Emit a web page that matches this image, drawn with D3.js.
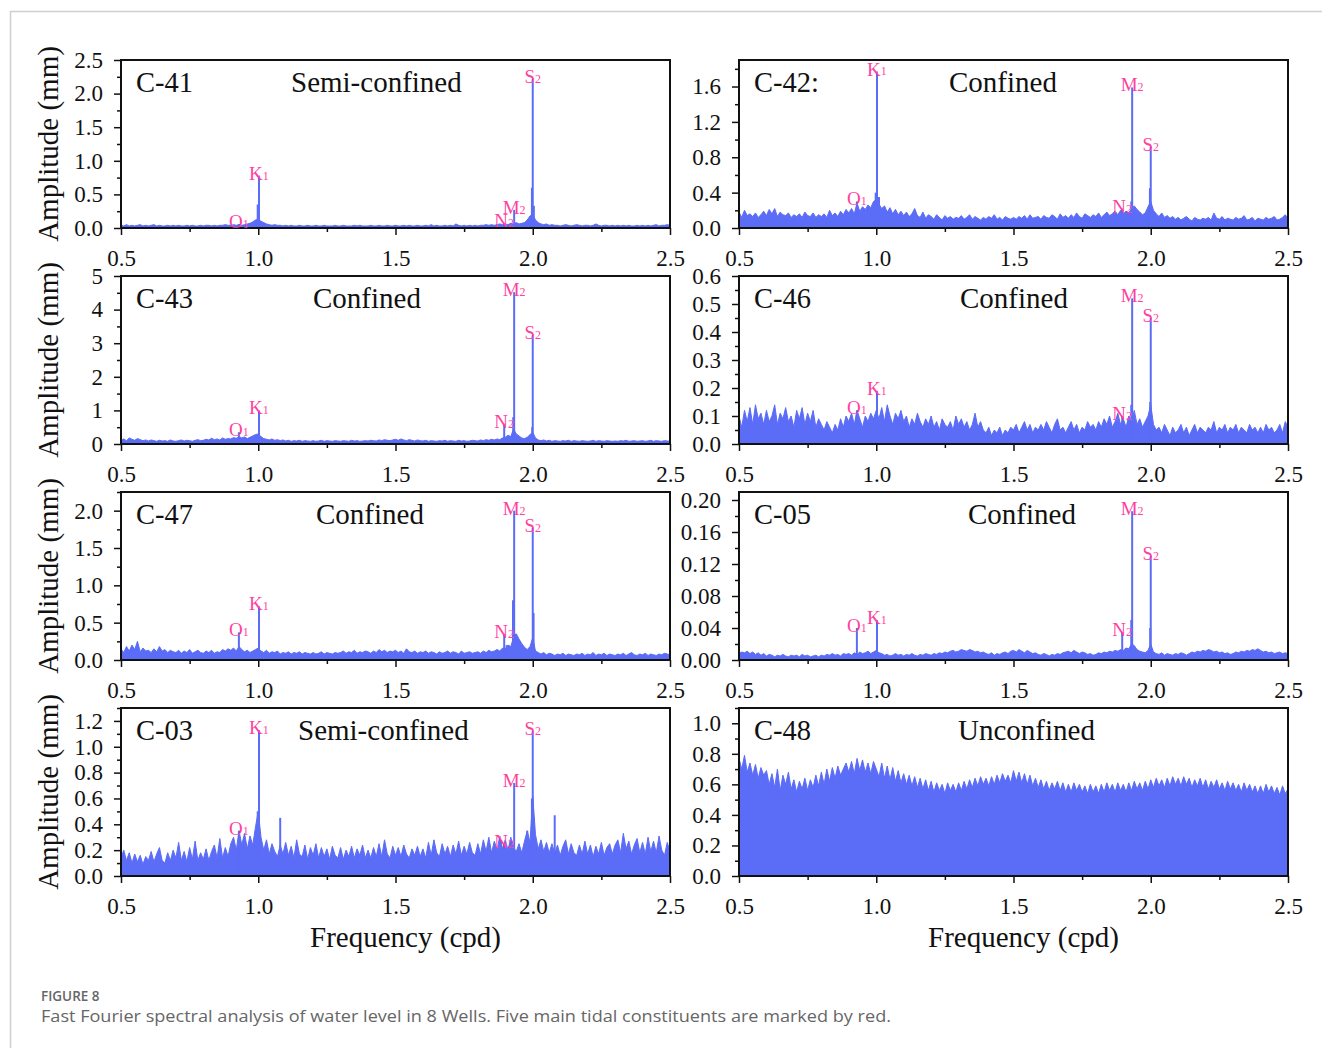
<!DOCTYPE html>
<html><head><meta charset="utf-8">
<script src="https://cdnjs.cloudflare.com/ajax/libs/d3/7.8.5/d3.min.js"></script>
<style>body{margin:0;background:#fff}svg{display:block}</style>
</head><body>
<svg id="c" width="1322" height="1048"></svg>
<script>
// ---------- DATA ----------
const freqStart = 0.5, freqStep = 0.01;
const xTicks = [0.5, 1.0, 1.5, 2.0, 2.5];
const xMinor = [0.75, 1.25, 1.75, 2.25];
const tideNames = ["O", "K", "N", "M", "S"];
const tideSubs  = ["1", "1", "2", "2", "2"];
const tideFreqs = [0.9295, 1.0027, 1.8960, 1.9323, 2.0];

const c41Noise = [0.04,0.03,0.05,0.03,0.04,0.03,0.04,0.05,0.03,0.04,
0.03,0.04,0.05,0.03,0.04,0.03,0.03,0.04,0.03,0.04,
0.03,0.04,0.03,0.03,0.04,0.03,0.04,0.03,0.03,0.04,
0.03,0.04,0.04,0.03,0.04,0.03,0.04,0.04,0.05,0.04,
0.04,0.05,0.04,0.05,0.04,0.05,0.06,0.07,0.09,0.12,
0.13,0.10,0.08,0.06,0.05,0.04,0.05,0.04,0.04,0.03,
0.04,0.03,0.04,0.03,0.03,0.04,0.03,0.03,0.04,0.03,
0.03,0.04,0.03,0.03,0.04,0.03,0.03,0.03,0.04,0.03,
0.03,0.04,0.03,0.03,0.03,0.04,0.03,0.04,0.03,0.03,
0.03,0.04,0.03,0.03,0.04,0.03,0.03,0.04,0.03,0.03,
0.04,0.03,0.03,0.04,0.03,0.04,0.03,0.03,0.04,0.03,
0.03,0.04,0.03,0.05,0.03,0.04,0.03,0.03,0.04,0.03,
0.04,0.03,0.06,0.04,0.03,0.04,0.03,0.04,0.03,0.04,
0.03,0.04,0.04,0.05,0.04,0.05,0.04,0.05,0.06,0.05,
0.06,0.05,0.07,0.06,0.08,0.06,0.07,0.08,0.12,0.18,
0.20,0.12,0.08,0.06,0.05,0.06,0.04,0.05,0.04,0.04,
0.03,0.04,0.05,0.04,0.03,0.04,0.05,0.04,0.03,0.04,
0.04,0.03,0.04,0.06,0.04,0.03,0.04,0.04,0.03,0.04,
0.03,0.04,0.03,0.04,0.03,0.04,0.03,0.03,0.04,0.03,
0.04,0.03,0.04,0.03,0.04,0.05,0.03,0.04,0.04,0.05,
0.04];
const c41Tide = [0.06, 0.78, 0.07, 0.27, 2.22];
const c41Extra = [[0.998,0.35],[1.997,0.60],[2.004,0.33]];
const c41YTicks = [0, 0.5, 1.0, 1.5, 2.0, 2.5];

const c42Noise = [0.18,0.12,0.20,0.14,0.16,0.13,0.17,0.12,0.15,0.19,
0.14,0.21,0.16,0.22,0.13,0.18,0.15,0.14,0.17,0.12,
0.15,0.13,0.16,0.12,0.18,0.14,0.13,0.17,0.12,0.15,
0.13,0.16,0.12,0.20,0.14,0.17,0.13,0.19,0.15,0.21,
0.17,0.22,0.16,0.28,0.19,0.24,0.21,0.26,0.23,0.30,
0.32,0.27,0.22,0.25,0.18,0.23,0.16,0.21,0.15,0.19,
0.14,0.18,0.13,0.16,0.22,0.14,0.12,0.18,0.11,0.15,
0.13,0.10,0.15,0.12,0.09,0.14,0.11,0.13,0.10,0.12,
0.11,0.14,0.10,0.12,0.15,0.10,0.13,0.11,0.09,0.12,
0.10,0.13,0.11,0.15,0.10,0.12,0.09,0.13,0.11,0.10,
0.12,0.10,0.13,0.11,0.14,0.10,0.15,0.11,0.12,0.13,
0.10,0.14,0.12,0.11,0.15,0.13,0.10,0.16,0.12,0.14,
0.11,0.15,0.12,0.17,0.13,0.11,0.16,0.14,0.12,0.15,
0.13,0.17,0.12,0.15,0.18,0.14,0.16,0.19,0.15,0.20,
0.16,0.19,0.17,0.22,0.25,0.21,0.18,0.15,0.17,0.24,
0.30,0.20,0.16,0.13,0.17,0.12,0.14,0.11,0.13,0.10,
0.12,0.09,0.11,0.13,0.10,0.08,0.12,0.10,0.09,0.11,
0.10,0.12,0.09,0.17,0.11,0.10,0.13,0.09,0.11,0.10,
0.09,0.12,0.10,0.11,0.14,0.09,0.10,0.12,0.08,0.11,
0.10,0.09,0.12,0.10,0.11,0.13,0.09,0.10,0.12,0.15,
0.11];
const c42Tide = [0.30, 1.77, 0.22, 1.59, 0.92];
const c42Extra = [[0.998,0.40],[1.01,0.35],[1.929,0.30],[1.997,0.45]];
const c42YTicks = [0, 0.4, 0.8, 1.2, 1.6];

const c43Noise = [0.12,0.15,0.10,0.18,0.14,0.11,0.16,0.13,0.10,0.12,
0.09,0.12,0.10,0.08,0.11,0.09,0.10,0.08,0.12,0.09,
0.08,0.10,0.12,0.09,0.11,0.10,0.08,0.11,0.13,0.10,
0.11,0.14,0.12,0.17,0.13,0.15,0.12,0.18,0.14,0.16,
0.15,0.19,0.17,0.22,0.18,0.21,0.16,0.20,0.24,0.28,
0.30,0.22,0.16,0.14,0.12,0.15,0.11,0.13,0.10,0.12,
0.09,0.11,0.08,0.10,0.09,0.11,0.08,0.10,0.09,0.08,
0.10,0.08,0.09,0.11,0.08,0.10,0.09,0.08,0.10,0.09,
0.08,0.10,0.09,0.08,0.11,0.09,0.10,0.08,0.09,0.10,
0.09,0.11,0.10,0.09,0.12,0.10,0.13,0.11,0.10,0.12,
0.14,0.11,0.15,0.12,0.10,0.13,0.11,0.09,0.12,0.10,
0.09,0.11,0.08,0.10,0.09,0.08,0.10,0.09,0.11,0.08,
0.10,0.09,0.08,0.11,0.09,0.10,0.08,0.09,0.11,0.10,
0.09,0.12,0.10,0.13,0.11,0.14,0.12,0.15,0.13,0.18,
0.20,0.26,0.22,0.45,0.30,0.24,0.18,0.16,0.20,0.28,
0.35,0.18,0.12,0.10,0.12,0.09,0.11,0.08,0.10,0.09,
0.08,0.10,0.09,0.11,0.08,0.10,0.09,0.08,0.10,0.09,
0.08,0.09,0.11,0.08,0.10,0.09,0.08,0.10,0.09,0.08,
0.09,0.08,0.10,0.09,0.11,0.08,0.09,0.10,0.08,0.09,
0.10,0.08,0.09,0.11,0.08,0.10,0.09,0.08,0.10,0.09,
0.08];
const c43Tide = [0.35, 1.0, 0.6, 4.52, 3.24];
const c43Extra = [[1.929,0.8],[1.998,0.5]];
const c43YTicks = [0, 1, 2, 3, 4, 5];

const c46Noise = [0.10,0.06,0.12,0.08,0.13,0.07,0.14,0.09,0.11,0.07,
0.12,0.08,0.10,0.14,0.07,0.11,0.09,0.13,0.08,0.10,
0.06,0.12,0.09,0.13,0.07,0.11,0.08,0.12,0.06,0.09,
0.07,0.05,0.08,0.06,0.04,0.07,0.05,0.09,0.06,0.10,
0.08,0.11,0.07,0.12,0.09,0.06,0.10,0.08,0.11,0.09,
0.12,0.09,0.13,0.08,0.14,0.10,0.07,0.11,0.09,0.12,
0.08,0.10,0.06,0.09,0.07,0.11,0.08,0.06,0.09,0.07,
0.10,0.06,0.08,0.05,0.09,0.07,0.06,0.08,0.05,0.10,
0.07,0.09,0.06,0.08,0.05,0.07,0.11,0.06,0.08,0.05,
0.04,0.06,0.03,0.05,0.04,0.06,0.03,0.05,0.04,0.06,
0.05,0.07,0.04,0.06,0.08,0.05,0.07,0.04,0.06,0.05,
0.07,0.05,0.08,0.06,0.04,0.07,0.09,0.05,0.06,0.04,
0.06,0.08,0.05,0.07,0.04,0.06,0.05,0.08,0.06,0.07,
0.05,0.08,0.06,0.09,0.07,0.10,0.06,0.08,0.11,0.07,
0.09,0.06,0.10,0.08,0.12,0.07,0.09,0.06,0.08,0.10,
0.14,0.07,0.05,0.06,0.04,0.07,0.05,0.03,0.06,0.04,
0.05,0.07,0.04,0.06,0.03,0.05,0.07,0.04,0.06,0.05,
0.04,0.06,0.05,0.08,0.04,0.06,0.05,0.07,0.04,0.06,
0.05,0.07,0.04,0.06,0.05,0.04,0.07,0.05,0.06,0.04,
0.06,0.04,0.07,0.05,0.06,0.04,0.05,0.07,0.04,0.08,
0.06];
const c46Tide = [0.12, 0.19, 0.10, 0.52, 0.45];
const c46Extra = [[1.929,0.14],[1.998,0.15]];
const c46YTicks = [0, 0.1, 0.2, 0.3, 0.4, 0.5, 0.6];

const c47Noise = [0.15,0.10,0.18,0.12,0.20,0.14,0.25,0.11,0.16,0.12,
0.13,0.10,0.15,0.11,0.18,0.12,0.14,0.10,0.13,0.11,
0.10,0.13,0.09,0.12,0.10,0.14,0.09,0.11,0.13,0.10,
0.09,0.12,0.10,0.13,0.09,0.11,0.10,0.14,0.12,0.15,
0.13,0.16,0.12,0.18,0.14,0.11,0.13,0.10,0.12,0.14,
0.16,0.12,0.10,0.13,0.09,0.11,0.10,0.12,0.08,0.10,
0.09,0.11,0.08,0.10,0.09,0.11,0.08,0.10,0.09,0.08,
0.10,0.08,0.09,0.11,0.08,0.10,0.09,0.08,0.10,0.09,
0.10,0.12,0.09,0.11,0.10,0.13,0.09,0.11,0.10,0.12,
0.11,0.09,0.12,0.10,0.14,0.11,0.13,0.10,0.12,0.11,
0.13,0.10,0.12,0.09,0.15,0.11,0.10,0.12,0.09,0.11,
0.10,0.12,0.09,0.11,0.10,0.08,0.11,0.09,0.10,0.12,
0.09,0.11,0.10,0.08,0.12,0.09,0.10,0.11,0.09,0.10,
0.11,0.09,0.12,0.10,0.13,0.11,0.12,0.14,0.12,0.16,
0.15,0.20,0.18,0.30,0.35,0.28,0.22,0.17,0.14,0.18,
0.30,0.12,0.10,0.08,0.10,0.07,0.09,0.08,0.06,0.08,
0.07,0.09,0.06,0.08,0.07,0.06,0.08,0.07,0.09,0.06,
0.08,0.07,0.10,0.06,0.08,0.07,0.09,0.06,0.08,0.07,
0.06,0.08,0.07,0.09,0.06,0.08,0.10,0.07,0.06,0.08,
0.07,0.09,0.06,0.08,0.07,0.06,0.08,0.07,0.09,0.08,
0.07];
const c47Tide = [0.37, 0.72, 0.35, 2.0, 1.77];
const c47Extra = [[1.905,0.20],[1.928,0.80],[1.938,0.35],[2.003,0.63]];
const c47YTicks = [0, 0.5, 1.0, 1.5, 2.0];

const c05Noise = [0.008,0.010,0.009,0.011,0.008,0.010,0.007,0.009,0.006,0.008,
0.005,0.007,0.006,0.004,0.006,0.005,0.007,0.005,0.004,0.006,
0.005,0.006,0.004,0.007,0.005,0.006,0.004,0.005,0.006,0.004,
0.006,0.005,0.007,0.006,0.008,0.006,0.007,0.005,0.008,0.007,
0.008,0.006,0.009,0.007,0.010,0.008,0.009,0.011,0.008,0.010,
0.012,0.009,0.008,0.006,0.007,0.005,0.006,0.008,0.006,0.007,
0.005,0.007,0.006,0.008,0.006,0.005,0.007,0.006,0.008,0.007,
0.006,0.008,0.007,0.009,0.008,0.010,0.009,0.011,0.012,0.010,
0.011,0.013,0.012,0.011,0.013,0.012,0.010,0.011,0.009,0.010,
0.008,0.007,0.009,0.006,0.008,0.007,0.009,0.010,0.008,0.011,
0.012,0.010,0.013,0.011,0.009,0.012,0.010,0.008,0.009,0.007,
0.006,0.008,0.007,0.005,0.007,0.006,0.008,0.007,0.009,0.010,
0.011,0.009,0.012,0.010,0.008,0.010,0.009,0.007,0.008,0.006,
0.007,0.009,0.008,0.010,0.009,0.011,0.010,0.012,0.011,0.013,
0.012,0.015,0.014,0.020,0.018,0.013,0.011,0.010,0.009,0.012,
0.020,0.010,0.008,0.007,0.009,0.006,0.008,0.007,0.006,0.008,
0.007,0.009,0.008,0.006,0.008,0.010,0.009,0.011,0.010,0.012,
0.011,0.013,0.012,0.010,0.011,0.009,0.010,0.008,0.009,0.007,
0.008,0.010,0.009,0.011,0.010,0.012,0.011,0.013,0.012,0.014,
0.012,0.010,0.011,0.009,0.010,0.008,0.009,0.010,0.008,0.009,
0.008];
const c05Tide = [0.040, 0.050, 0.035, 0.186, 0.130];
const c05Extra = [[1.929,0.05],[1.998,0.04]];
const c05YTicks = [0, 0.04, 0.08, 0.12, 0.16, 0.20];

const c03Noise = [0.14,0.20,0.12,0.18,0.10,0.17,0.11,0.16,0.09,0.15,
0.12,0.19,0.11,0.17,0.22,0.12,0.10,0.18,0.12,0.20,
0.14,0.26,0.12,0.19,0.11,0.22,0.13,0.27,0.12,0.18,
0.13,0.21,0.12,0.19,0.24,0.14,0.29,0.14,0.22,0.15,
0.25,0.30,0.20,0.35,0.24,0.33,0.21,0.31,0.24,0.38,
0.50,0.30,0.20,0.28,0.17,0.25,0.19,0.15,0.24,0.17,
0.26,0.16,0.23,0.14,0.28,0.17,0.15,0.24,0.13,0.22,
0.16,0.25,0.14,0.22,0.15,0.21,0.13,0.23,0.16,0.14,
0.22,0.13,0.20,0.15,0.23,0.14,0.21,0.16,0.24,0.14,
0.20,0.14,0.22,0.15,0.25,0.15,0.28,0.17,0.14,0.23,
0.16,0.22,0.15,0.24,0.17,0.14,0.21,0.16,0.23,0.15,
0.21,0.14,0.26,0.16,0.28,0.18,0.15,0.25,0.17,0.23,
0.15,0.24,0.17,0.27,0.16,0.23,0.17,0.26,0.18,0.16,
0.25,0.17,0.28,0.19,0.30,0.18,0.27,0.20,0.31,0.21,
0.28,0.20,0.30,0.22,0.19,0.25,0.18,0.27,0.35,0.26,
0.62,0.32,0.21,0.28,0.19,0.26,0.18,0.25,0.17,0.24,
0.16,0.23,0.28,0.17,0.25,0.18,0.16,0.24,0.17,0.27,
0.17,0.24,0.15,0.23,0.17,0.26,0.16,0.22,0.25,0.17,
0.24,0.28,0.18,0.33,0.21,0.27,0.17,0.24,0.29,0.18,
0.26,0.17,0.30,0.19,0.27,0.18,0.31,0.20,0.16,0.26,
0.19];
const c03Tide = [0.35, 1.13, 0.25, 0.72, 1.12];
const c03Extra = [[0.998,0.50],[1.08,0.45],[1.98,0.35],[1.997,0.60],[2.004,0.45],[2.08,0.47]];
const c03YTicks = [0, 0.2, 0.4, 0.6, 0.8, 1.0, 1.2];

const c48Noise = [0.77,0.70,0.79,0.68,0.74,0.66,0.73,0.64,0.71,0.66,
0.69,0.60,0.67,0.58,0.70,0.56,0.66,0.60,0.68,0.57,
0.63,0.55,0.62,0.57,0.64,0.56,0.63,0.58,0.66,0.59,
0.68,0.60,0.70,0.62,0.71,0.64,0.72,0.66,0.70,0.74,
0.68,0.75,0.67,0.77,0.69,0.76,0.68,0.74,0.67,0.75,
0.70,0.65,0.74,0.64,0.72,0.63,0.71,0.62,0.69,0.61,
0.67,0.60,0.66,0.59,0.65,0.58,0.64,0.57,0.63,0.56,
0.62,0.55,0.61,0.56,0.60,0.54,0.61,0.56,0.60,0.55,
0.61,0.56,0.62,0.57,0.63,0.58,0.64,0.59,0.65,0.60,
0.64,0.59,0.65,0.60,0.66,0.61,0.67,0.62,0.66,0.61,
0.69,0.62,0.68,0.61,0.67,0.60,0.66,0.59,0.64,0.58,
0.63,0.57,0.62,0.56,0.61,0.57,0.62,0.56,0.61,0.55,
0.60,0.55,0.61,0.56,0.60,0.55,0.59,0.54,0.60,0.55,
0.59,0.54,0.60,0.55,0.61,0.56,0.60,0.55,0.61,0.56,
0.60,0.55,0.61,0.56,0.62,0.57,0.61,0.56,0.62,0.57,
0.63,0.58,0.64,0.59,0.63,0.58,0.64,0.59,0.65,0.60,
0.64,0.59,0.65,0.60,0.64,0.58,0.63,0.59,0.64,0.58,
0.63,0.57,0.62,0.58,0.63,0.57,0.61,0.56,0.62,0.57,
0.61,0.56,0.60,0.55,0.61,0.56,0.60,0.55,0.59,0.54,
0.59,0.54,0.60,0.55,0.59,0.54,0.58,0.53,0.59,0.54,
0.57];
const c48Tide = [];
const c48Extra = [];
const c48YTicks = [0, 0.2, 0.4, 0.6, 0.8, 1.0];

// ---------- LAYOUT ----------
const colX = [121, 739], plotW = 549;
const rowY = [60, 276, 492, 708], plotH = 168;
const BLUE = "#5b6cf7", PINK = "#ff3fa0";
const SERIF = "'Liberation Serif','Times New Roman',serif";

const panels = [
  {name:"C-41", kind:"Semi-confined", noise:c41Noise, tide:c41Tide, extra:c41Extra, ticks:c41YTicks, yMax:2.5, fmt:".1f", col:0, row:0, kx:291},
  {name:"C-42:", kind:"Confined", noise:c42Noise, tide:c42Tide, extra:c42Extra, ticks:c42YTicks, yMax:1.9, fmt:".1f", col:1, row:0, kx:949},
  {name:"C-43", kind:"Confined", noise:c43Noise, tide:c43Tide, extra:c43Extra, ticks:c43YTicks, yMax:5, fmt:"d", col:0, row:1, kx:313},
  {name:"C-46", kind:"Confined", noise:c46Noise, tide:c46Tide, extra:c46Extra, ticks:c46YTicks, yMax:0.6, fmt:".1f", col:1, row:1, kx:960},
  {name:"C-47", kind:"Confined", noise:c47Noise, tide:c47Tide, extra:c47Extra, ticks:c47YTicks, yMax:2.25, fmt:".1f", col:0, row:2, kx:316},
  {name:"C-05", kind:"Confined", noise:c05Noise, tide:c05Tide, extra:c05Extra, ticks:c05YTicks, yMax:0.21, fmt:".2f", col:1, row:2, kx:968},
  {name:"C-03", kind:"Semi-confined", noise:c03Noise, tide:c03Tide, extra:c03Extra, ticks:c03YTicks, yMax:1.3, fmt:".1f", col:0, row:3, kx:298},
  {name:"C-48", kind:"Unconfined", noise:c48Noise, tide:c48Tide, extra:c48Extra, ticks:c48YTicks, yMax:1.1, fmt:".1f", col:1, row:3, kx:958}
];

const svg = d3.select("#c");
// outer frame
svg.append("line").attr("x1",10).attr("y1",11.5).attr("x2",1322).attr("y2",11.5).attr("stroke","#cfcfcf").attr("stroke-width",1.5);
svg.append("line").attr("x1",10.5).attr("y1",11).attr("x2",10.5).attr("y2",1048).attr("stroke","#cfcfcf").attr("stroke-width",1.5);

panels.forEach((p, pi) => {
  const x0 = colX[p.col], y0 = rowY[p.row];
  const g = svg.append("g").attr("transform", `translate(${x0},${y0})`);
  const x = d3.scaleLinear().domain([0.5, 2.5]).range([0, plotW]);
  const y = d3.scaleLinear().domain([0, p.yMax]).range([plotH, 0]);

  const clipId = "clip" + pi;
  g.append("clipPath").attr("id", clipId).append("rect").attr("width", plotW).attr("height", plotH);
  const pg = g.append("g").attr("clip-path", `url(#${clipId})`);

  const pts = p.noise.map((v, i) => [freqStart + i * freqStep, v]);
  pg.append("path").datum(pts)
    .attr("fill", BLUE)
    .attr("stroke", BLUE).attr("stroke-width", 1).attr("stroke-linejoin","miter")
    .attr("d", d3.area().x(d => x(d[0])).y0(y(0)).y1(d => y(d[1])));

  const stems = p.extra.concat(p.tide.map((a, k) => [tideFreqs[k], a]));
  pg.selectAll("line.stem").data(stems).join("line").attr("class","stem")
    .attr("x1", d => x(d[0])).attr("x2", d => x(d[0]))
    .attr("y1", y(0)).attr("y2", d => y(d[1]))
    .attr("stroke", BLUE).attr("stroke-width", 2);

  // axes
  const minors = [];
  for (let k = 0; k < p.ticks.length; k++) {
    const step = p.ticks[1] - p.ticks[0];
    const m = p.ticks[k] + step / 2;
    if (m <= p.yMax + 1e-9) minors.push(m);
  }
  const yAx = g.append("g").call(d3.axisLeft(y).tickValues(p.ticks).tickSize(7).tickPadding(11).tickFormat(d3.format(p.fmt)));
  const yAxm = g.append("g").call(d3.axisLeft(y).tickValues(minors).tickSize(4).tickFormat(""));
  const xAx = g.append("g").attr("transform", `translate(0,${plotH})`)
    .call(d3.axisBottom(x).tickValues(xTicks).tickSize(7).tickPadding(15).tickFormat(d3.format(".1f")));
  const xAxm = g.append("g").attr("transform", `translate(0,${plotH})`)
    .call(d3.axisBottom(x).tickValues(xMinor).tickSize(4).tickFormat(""));
  [yAx, yAxm, xAx, xAxm].forEach(a => {
    a.select(".domain").remove();
    a.selectAll("line").attr("stroke", "#111").attr("stroke-width", 1.5);
    a.selectAll("text").attr("font-family", SERIF).attr("font-size", 23).attr("fill", "#111");
  });
  // frame
  g.append("rect").attr("width", plotW).attr("height", plotH)
    .attr("fill", "none").attr("stroke", "#111").attr("stroke-width", 2);

  // tide labels
  p.tide.forEach((a, k) => {
    const t = g.append("text").attr("x", x(tideFreqs[k])).attr("y", y(a) + 4)
      .attr("text-anchor", "middle").attr("font-family", SERIF).attr("fill", PINK).attr("font-size", 19);
    t.append("tspan").text(tideNames[k]);
    t.append("tspan").attr("font-size", 12).text(tideSubs[k]);
  });

  // panel texts
  g.append("text").attr("x", 15).attr("y", 32).attr("font-family", SERIF).attr("font-size", 28.5).attr("fill", "#111").text(p.name);
  g.append("text").attr("x", p.kx - x0).attr("y", 32).attr("font-family", SERIF).attr("font-size", 29).attr("fill", "#111").text(p.kind);

  if (p.col === 0) {
    svg.append("text").attr("transform", `translate(58,${y0 + plotH / 2}) rotate(-90)`)
      .attr("text-anchor", "middle").attr("font-family", SERIF).attr("font-size", 29).attr("fill", "#111")
      .text("Amplitude (mm)");
  }
  if (p.row === 3) {
    svg.append("text").attr("x", x0 + plotW / 2 + 10).attr("y", 947)
      .attr("text-anchor", "middle").attr("font-family", SERIF).attr("font-size", 29).attr("fill", "#111")
      .text("Frequency (cpd)");
  }
});

// caption
svg.append("text").attr("x", 41).attr("y", 1001).attr("font-family", "'Open Sans',sans-serif")
  .attr("font-size", 13.5).attr("font-weight", 600).attr("fill", "#666").text("FIGURE 8");
svg.append("text").attr("x", 41).attr("y", 1022).attr("font-family", "'Open Sans',sans-serif")
  .attr("font-size", 17).attr("fill", "#666").attr("textLength", 850).attr("lengthAdjust", "spacingAndGlyphs")
  .text("Fast Fourier spectral analysis of water level in 8 Wells. Five main tidal constituents are marked by red.");
</script>
</body></html>
